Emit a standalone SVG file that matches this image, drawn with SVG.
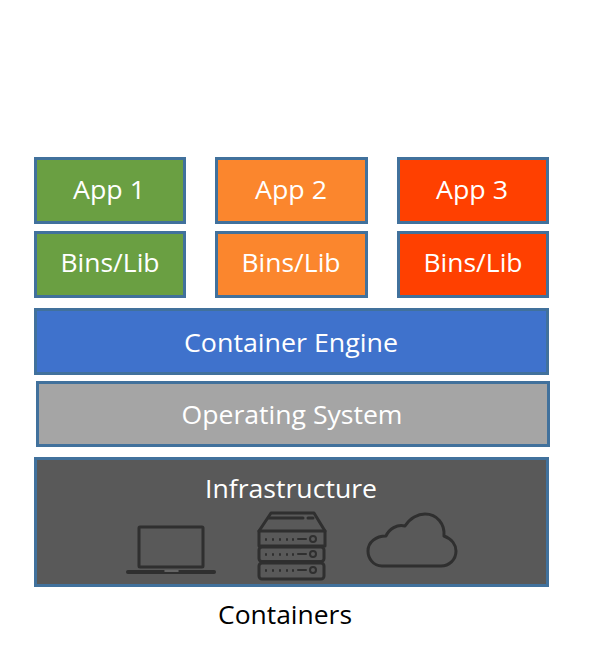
<svg xmlns="http://www.w3.org/2000/svg" width="594" height="662" viewBox="0 0 594 662">
<style>
.b{stroke:#41719c;stroke-width:3}
.t{font-family:"Open Sans","Noto Sans",sans-serif;font-size:25px;fill:#fff;text-anchor:middle}
.i{fill:none;stroke:#2f2f2f;stroke-width:3;stroke-linecap:round;stroke-linejoin:round}
.g{fill:#6a9f42}.o{fill:#fb862d}.r{fill:#ff4000}
</style>
<rect width="594" height="662" fill="#fff"/>
<g id="app1"><rect class="b g" x="35.500" y="158.500" width="149" height="64"/><text class="t" x="109" y="199" textLength="72" lengthAdjust="spacingAndGlyphs">App 1</text></g>
<g id="app2"><rect class="b o" x="216.500" y="158.500" width="150" height="64"/><text class="t" x="291" y="199" textLength="72" lengthAdjust="spacingAndGlyphs">App 2</text></g>
<g id="app3"><rect class="b r" x="398.500" y="158.500" width="149" height="64"/><text class="t" x="472" y="199" textLength="72" lengthAdjust="spacingAndGlyphs">App 3</text></g>
<g id="bins1"><rect class="b g" x="35.500" y="232.500" width="149" height="64"/><text class="t" x="110" y="272" textLength="99" lengthAdjust="spacingAndGlyphs">Bins/Lib</text></g>
<g id="bins2"><rect class="b o" x="216.500" y="232.500" width="150" height="64"/><text class="t" x="291" y="272" textLength="99" lengthAdjust="spacingAndGlyphs">Bins/Lib</text></g>
<g id="bins3"><rect class="b r" x="398.500" y="232.500" width="149" height="64"/><text class="t" x="473" y="272" textLength="99" lengthAdjust="spacingAndGlyphs">Bins/Lib</text></g>
<g id="engine"><rect class="b" fill="#3f72cc" x="35.500" y="309.500" width="512" height="64"/><text class="t" x="291" y="352" textLength="214" lengthAdjust="spacingAndGlyphs">Container Engine</text></g>
<g id="os"><rect class="b" fill="#a5a5a5" x="37.500" y="382.500" width="511" height="63"/><text class="t" x="292" y="424" textLength="221" lengthAdjust="spacingAndGlyphs">Operating System</text></g>
<g id="infra"><rect class="b" fill="#595959" x="35.500" y="458.500" width="512" height="127"/><text class="t" x="291" y="498" textLength="172" lengthAdjust="spacingAndGlyphs">Infrastructure</text>
<g id="laptop" class="i"><rect x="139" y="527" width="64" height="40" rx="1"/><path d="M128 572H214" stroke-width="4"/><path d="M165 571H178" stroke="#777" stroke-width="1.500"/></g>
<g id="server" class="i"><path d="M259 531L271 513H314L325 531V546H259Z"/><rect x="259" y="547" width="65" height="14.500" rx="3"/><rect x="259" y="563" width="65" height="16" rx="3"/><path d="M259 531H325M269 518H303M308 518H313"/><path d="M266 539v1M273 539v1M280 539v1M287 539v1M293 539v1M266 554v1M273 554v1M280 554v1M287 554v1M293 554v1M266 570v1M273 570v1M280 570v1M287 570v1M293 570v1M298 539H306M298 554H306M298 570H306" stroke-width="2"/><circle cx="313" cy="539" r="3" stroke-width="2"/><circle cx="313" cy="554" r="3" stroke-width="2"/><circle cx="313" cy="570" r="3" stroke-width="2"/></g>
<path id="cloud" class="i" stroke-width="5.500" d="M382 566C373 566 368 558 368 551C368 542 376 536 386 536C389 529 397 524 405 526C410 518 418 514 425 514C437 514 445 524 444 536C452 539 456 545 456 551C456 560 449 566 441 566Z"/>
</g>
<text x="285" y="624" font-family="'Open Sans','Noto Sans',sans-serif" font-size="25" fill="#000" text-anchor="middle" textLength="134" lengthAdjust="spacingAndGlyphs">Containers</text>
</svg>
